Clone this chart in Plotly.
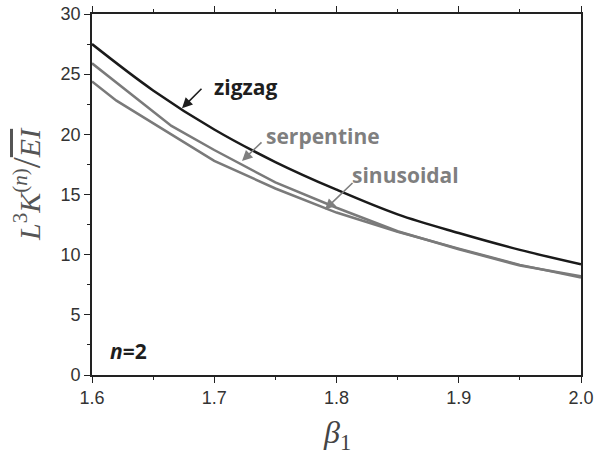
import plotly.graph_objects as go

# Data
zigzag_x = [1.60, 1.65, 1.70, 1.75, 1.80, 1.85, 1.90, 1.95, 2.00]
zigzag_y = [27.5, 23.65, 20.4, 17.7, 15.4, 13.35, 11.8, 10.4, 9.2]

serp_x = [1.60, 1.665, 1.70, 1.75, 1.80, 1.85, 1.90, 1.95, 2.00]
serp_y = [25.9, 20.7, 18.7, 16.0, 13.9, 11.95, 10.45, 9.1, 8.2]

sinus_x = [1.60, 1.62, 1.70, 1.75, 1.80, 1.85, 1.90, 1.95, 2.00]
sinus_y = [24.4, 22.8, 17.8, 15.5, 13.5, 11.9, 10.5, 9.15, 8.1]

x_ticks = [1.6, 1.7, 1.8, 1.9, 2.0]
y_ticks = [0, 5, 10, 15, 20, 25, 30]

fig = go.Figure()
fig.add_trace(go.Scatter(x=sinus_x, y=sinus_y, mode="lines",
                         line=dict(color="#7a7a7a", width=2.5), name="sinusoidal"))
fig.add_trace(go.Scatter(x=serp_x, y=serp_y, mode="lines",
                         line=dict(color="#7a7a7a", width=2.5), name="serpentine"))
fig.add_trace(go.Scatter(x=zigzag_x, y=zigzag_y, mode="lines", line_shape="spline",
                         line=dict(color="#1a1a1a", width=2.5), name="zigzag"))

axis_common = dict(showgrid=False, zeroline=False, showline=True, linecolor="#222",
                   linewidth=1.6, ticks="outside", tickcolor="#222", tickwidth=1.4,
                   ticklen=6, automargin=False, ticklabeloverflow="allow",
                   tickfont=dict(family="Liberation Sans, Arial", size=18, color="#333"))

fig.update_xaxes(range=[1.6, 2.0], tickvals=x_ticks, tickformat=".1f", mirror="ticks",
                 minor=dict(dtick=0.05, ticks="outside", ticklen=3.5, tickcolor="#222",
                            tickwidth=1.2), **axis_common)
fig.update_yaxes(range=[0, 30], tickvals=y_ticks, mirror=True,
                 minor=dict(dtick=2.5, ticks="outside", ticklen=3.5, tickcolor="#222",
                            tickwidth=1.2), **axis_common)

# plot area target on screen: x 92..581, y 14..375
ann_font = "Open Sans, Noto Sans, Arial"
annotations = [
    dict(x=245, y=87, text="<b>zigzag</b>", font=dict(family=ann_font, size=21, color="#1e1e1e")),
    dict(x=323, y=136, text="<b>serpentine</b>", font=dict(family=ann_font, size=21, color="#7f7f7f")),
    dict(x=405, y=175, text="<b>sinusoidal</b>", font=dict(family=ann_font, size=21, color="#7f7f7f")),
    dict(x=128, y=351, text="<b><i>n</i>=2</b>", font=dict(family=ann_font, size=21, color="#1e1e1e")),
]
layout_ann = []
for a in annotations:
    layout_ann.append(dict(
        xref="paper", yref="paper",
        x=(a["x"] - 92) / 489, y=(375 - a["y"]) / 361,
        xanchor="center", yanchor="middle",
        text=a["text"], font=a["font"], showarrow=False))

# arrows (tip on curves, in data coords)
arrows = [
    dict(x=1.6 + (182 - 92) / 1222.5, y=(375 - 109) / 12, ax=21, ay=-21, color="#1e1e1e"),
    dict(x=1.6 + (242 - 92) / 1222.5, y=(375 - 161.5) / 12, ax=21, ay=-20, color="#7f7f7f"),
    dict(x=1.6 + (325 - 92) / 1222.5, y=(375 - 210) / 12, ax=29, ay=-28, color="#7f7f7f"),
]
for a in arrows:
    layout_ann.append(dict(x=a["x"], y=a["y"], xref="x", yref="y", ax=a["ax"], ay=a["ay"],
                           text="", showarrow=True, arrowhead=2, arrowsize=1.3,
                           arrowwidth=1.6, arrowcolor=a["color"]))

# axis titles
layout_ann.append(dict(
    xref="paper", yref="paper", x=(27 - 92) / 489, y=(375 - 184) / 361,
    xanchor="center", yanchor="middle", textangle=-90, showarrow=False,
    text="<i>L</i><sup>3</sup><i>K</i><sup>(<i>n</i>)</sup>"
         "<span style='font-size:40px'>/</span>"
         "<span style='text-decoration:overline'><i>EI</i></span>",
    font=dict(family="Liberation Serif, Times New Roman", size=30, color="#555")))
layout_ann.append(dict(
    xref="paper", yref="paper", x=0.5, y=(375 - 434) / 361,
    xanchor="center", yanchor="middle", showarrow=False,
    text="<i>β</i><sub>1</sub>",
    font=dict(family="Liberation Serif, Times New Roman", size=32, color="#444")))

fig.update_layout(width=600, height=460,
                  margin=dict(l=92, r=19, t=14, b=85, autoexpand=False),
                  plot_bgcolor="white", paper_bgcolor="white", showlegend=False,
                  annotations=layout_ann)

fig.write_html("out.html", config={"displayModeBar": False},
               post_script="document.body.style.margin='0';document.body.style.overflow='hidden';")
